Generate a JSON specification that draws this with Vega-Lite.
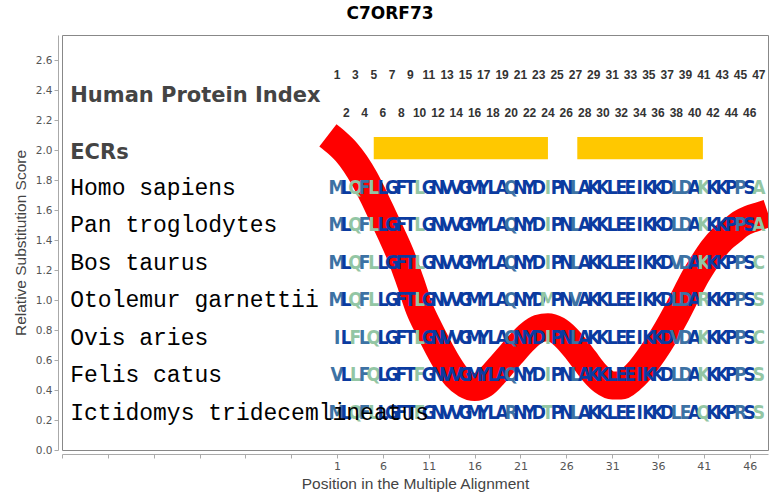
{
  "$schema": "https://vega.github.io/schema/vega-lite/v6.json",
  "width": 706,
  "height": 415,
  "autosize": {"type": "none"},
  "padding": {"left": 62, "top": 35, "right": 12, "bottom": 50},
  "background": "white",
  "title": {"text": "C7ORF73", "font": "DejaVu Sans", "fontSize": 17, "fontWeight": "bold", "color": "#000", "dx": -25, "offset": 12},
  "config": {
    "view": {"stroke": "#888", "strokeWidth": 1},
    "axis": {"grid": false, "domainColor": "#aaa", "tickColor": "#aaa", "tickSize": 4, "labelFont": "DejaVu Sans", "labelFontSize": 11, "labelColor": "#555", "titleFont": "Liberation Sans", "titleFontSize": 15.5, "titleFontWeight": "normal", "titleColor": "#444", "offset": 4},
    "axisY": {"labelOverlap": false}
  },
  "datasets": {
    "curve": [
      {"pos": 0, "score": 2.1}, {"pos": 1, "score": 2.05}, {"pos": 2, "score": 1.99}, {"pos": 3, "score": 1.91}, {"pos": 4, "score": 1.81},
      {"pos": 5, "score": 1.69}, {"pos": 6, "score": 1.56}, {"pos": 7, "score": 1.43}, {"pos": 8, "score": 1.29}, {"pos": 9, "score": 1.12},
      {"pos": 10, "score": 0.94}, {"pos": 11, "score": 0.81}, {"pos": 12, "score": 0.69}, {"pos": 13, "score": 0.58}, {"pos": 14, "score": 0.49},
      {"pos": 15, "score": 0.44}, {"pos": 16, "score": 0.42}, {"pos": 17, "score": 0.44}, {"pos": 18, "score": 0.5}, {"pos": 19, "score": 0.57},
      {"pos": 20, "score": 0.64}, {"pos": 21, "score": 0.71}, {"pos": 22, "score": 0.77}, {"pos": 23, "score": 0.81}, {"pos": 24, "score": 0.82},
      {"pos": 25, "score": 0.8}, {"pos": 26, "score": 0.75}, {"pos": 27, "score": 0.68}, {"pos": 28, "score": 0.6}, {"pos": 29, "score": 0.52},
      {"pos": 30, "score": 0.46}, {"pos": 31, "score": 0.43}, {"pos": 32, "score": 0.43}, {"pos": 33, "score": 0.47}, {"pos": 34, "score": 0.53},
      {"pos": 35, "score": 0.61}, {"pos": 36, "score": 0.7}, {"pos": 37, "score": 0.8}, {"pos": 38, "score": 0.91}, {"pos": 39, "score": 1.03},
      {"pos": 40, "score": 1.15}, {"pos": 41, "score": 1.25}, {"pos": 42, "score": 1.34}, {"pos": 43, "score": 1.41}, {"pos": 44, "score": 1.46},
      {"pos": 45, "score": 1.51}, {"pos": 46, "score": 1.54}, {"pos": 47, "score": 1.56}, {"pos": 48, "score": 1.58}
    ],
    "ecrs": [
      {"start": 5, "end": 24},
      {"start": 27.2, "end": 40.9}
    ],
    "headers": [
      {"label": "Human Protein Index", "y": 2.36},
      {"label": "ECRs", "y": 1.98}
    ],
    "species": [
      {"sp": 1, "name": "Homo sapiens", "level": 1.75},
      {"sp": 2, "name": "Pan troglodytes", "level": 1.5},
      {"sp": 3, "name": "Bos taurus", "level": 1.25},
      {"sp": 4, "name": "Otolemur garnettii", "level": 1.0},
      {"sp": 5, "name": "Ovis aries", "level": 0.75},
      {"sp": 6, "name": "Felis catus", "level": 0.5},
      {"sp": 7, "name": "Ictidomys tridecemlineatus", "level": 0.25}
    ],
    "index": [
      {"pos": 1, "y": 2.5}, {"pos": 2, "y": 2.25}, {"pos": 3, "y": 2.5}, {"pos": 4, "y": 2.25}, {"pos": 5, "y": 2.5}, {"pos": 6, "y": 2.25},
      {"pos": 7, "y": 2.5}, {"pos": 8, "y": 2.25}, {"pos": 9, "y": 2.5}, {"pos": 10, "y": 2.25}, {"pos": 11, "y": 2.5}, {"pos": 12, "y": 2.25},
      {"pos": 13, "y": 2.5}, {"pos": 14, "y": 2.25}, {"pos": 15, "y": 2.5}, {"pos": 16, "y": 2.25}, {"pos": 17, "y": 2.5}, {"pos": 18, "y": 2.25},
      {"pos": 19, "y": 2.5}, {"pos": 20, "y": 2.25}, {"pos": 21, "y": 2.5}, {"pos": 22, "y": 2.25}, {"pos": 23, "y": 2.5}, {"pos": 24, "y": 2.25},
      {"pos": 25, "y": 2.5}, {"pos": 26, "y": 2.25}, {"pos": 27, "y": 2.5}, {"pos": 28, "y": 2.25}, {"pos": 29, "y": 2.5}, {"pos": 30, "y": 2.25},
      {"pos": 31, "y": 2.5}, {"pos": 32, "y": 2.25}, {"pos": 33, "y": 2.5}, {"pos": 34, "y": 2.25}, {"pos": 35, "y": 2.5}, {"pos": 36, "y": 2.25},
      {"pos": 37, "y": 2.5}, {"pos": 38, "y": 2.25}, {"pos": 39, "y": 2.5}, {"pos": 40, "y": 2.25}, {"pos": 41, "y": 2.5}, {"pos": 42, "y": 2.25},
      {"pos": 43, "y": 2.5}, {"pos": 44, "y": 2.25}, {"pos": 45, "y": 2.5}, {"pos": 46, "y": 2.25}, {"pos": 47, "y": 2.5}
    ],
    "columns": [
      {"pos": 1, "cons": "m"}, {"pos": 2, "cons": "d"}, {"pos": 3, "cons": "l"}, {"pos": 4, "cons": "m"}, {"pos": 5, "cons": "l"},
      {"pos": 6, "cons": "d"}, {"pos": 7, "cons": "d"}, {"pos": 8, "cons": "d"}, {"pos": 9, "cons": "d"}, {"pos": 10, "cons": "l"},
      {"pos": 11, "cons": "d"}, {"pos": 12, "cons": "d"}, {"pos": 13, "cons": "d"}, {"pos": 14, "cons": "d"}, {"pos": 15, "cons": "d"},
      {"pos": 16, "cons": "d"}, {"pos": 17, "cons": "d"}, {"pos": 18, "cons": "d"}, {"pos": 19, "cons": "d"}, {"pos": 20, "cons": "m"},
      {"pos": 21, "cons": "d"}, {"pos": 22, "cons": "d"}, {"pos": 23, "cons": "d"}, {"pos": 24, "cons": "l"}, {"pos": 25, "cons": "d"},
      {"pos": 26, "cons": "d"}, {"pos": 27, "cons": "m"}, {"pos": 28, "cons": "d"}, {"pos": 29, "cons": "d"}, {"pos": 30, "cons": "d"},
      {"pos": 31, "cons": "d"}, {"pos": 32, "cons": "d"}, {"pos": 33, "cons": "d"}, {"pos": 34, "cons": "d"}, {"pos": 35, "cons": "d"},
      {"pos": 36, "cons": "d"}, {"pos": 37, "cons": "d"}, {"pos": 38, "cons": "m"}, {"pos": 39, "cons": "m"}, {"pos": 40, "cons": "d"},
      {"pos": 41, "cons": "l"}, {"pos": 42, "cons": "d"}, {"pos": 43, "cons": "d"}, {"pos": 44, "cons": "d"}, {"pos": 45, "cons": "m"},
      {"pos": 46, "cons": "d"}, {"pos": 47, "cons": "l"}
    ],
    "alignment": [
      {"sp":1,"pos":1,"aa":"M"},{"sp":1,"pos":2,"aa":"L"},{"sp":1,"pos":3,"aa":"Q"},{"sp":1,"pos":4,"aa":"F"},{"sp":1,"pos":5,"aa":"L"},{"sp":1,"pos":6,"aa":"L"},{"sp":1,"pos":7,"aa":"G"},{"sp":1,"pos":8,"aa":"F"},{"sp":1,"pos":9,"aa":"T"},{"sp":1,"pos":10,"aa":"L"},
      {"sp":1,"pos":11,"aa":"G"},{"sp":1,"pos":12,"aa":"N"},{"sp":1,"pos":13,"aa":"V"},{"sp":1,"pos":14,"aa":"V"},{"sp":1,"pos":15,"aa":"G"},{"sp":1,"pos":16,"aa":"M"},{"sp":1,"pos":17,"aa":"Y"},{"sp":1,"pos":18,"aa":"L"},{"sp":1,"pos":19,"aa":"A"},{"sp":1,"pos":20,"aa":"Q"},
      {"sp":1,"pos":21,"aa":"N"},{"sp":1,"pos":22,"aa":"Y"},{"sp":1,"pos":23,"aa":"D"},{"sp":1,"pos":24,"aa":"I"},{"sp":1,"pos":25,"aa":"P"},{"sp":1,"pos":26,"aa":"N"},{"sp":1,"pos":27,"aa":"L"},{"sp":1,"pos":28,"aa":"A"},{"sp":1,"pos":29,"aa":"K"},{"sp":1,"pos":30,"aa":"K"},
      {"sp":1,"pos":31,"aa":"L"},{"sp":1,"pos":32,"aa":"E"},{"sp":1,"pos":33,"aa":"E"},{"sp":1,"pos":34,"aa":"I"},{"sp":1,"pos":35,"aa":"K"},{"sp":1,"pos":36,"aa":"K"},{"sp":1,"pos":37,"aa":"D"},{"sp":1,"pos":38,"aa":"L"},{"sp":1,"pos":39,"aa":"D"},{"sp":1,"pos":40,"aa":"A"},
      {"sp":1,"pos":41,"aa":"K"},{"sp":1,"pos":42,"aa":"K"},{"sp":1,"pos":43,"aa":"K"},{"sp":1,"pos":44,"aa":"P"},{"sp":1,"pos":45,"aa":"P"},{"sp":1,"pos":46,"aa":"S"},{"sp":1,"pos":47,"aa":"A"},

      {"sp":2,"pos":1,"aa":"M"},{"sp":2,"pos":2,"aa":"L"},{"sp":2,"pos":3,"aa":"Q"},{"sp":2,"pos":4,"aa":"F"},{"sp":2,"pos":5,"aa":"L"},{"sp":2,"pos":6,"aa":"L"},{"sp":2,"pos":7,"aa":"G"},{"sp":2,"pos":8,"aa":"F"},{"sp":2,"pos":9,"aa":"T"},{"sp":2,"pos":10,"aa":"L"},
      {"sp":2,"pos":11,"aa":"G"},{"sp":2,"pos":12,"aa":"N"},{"sp":2,"pos":13,"aa":"V"},{"sp":2,"pos":14,"aa":"V"},{"sp":2,"pos":15,"aa":"G"},{"sp":2,"pos":16,"aa":"M"},{"sp":2,"pos":17,"aa":"Y"},{"sp":2,"pos":18,"aa":"L"},{"sp":2,"pos":19,"aa":"A"},{"sp":2,"pos":20,"aa":"Q"},
      {"sp":2,"pos":21,"aa":"N"},{"sp":2,"pos":22,"aa":"Y"},{"sp":2,"pos":23,"aa":"D"},{"sp":2,"pos":24,"aa":"I"},{"sp":2,"pos":25,"aa":"P"},{"sp":2,"pos":26,"aa":"N"},{"sp":2,"pos":27,"aa":"L"},{"sp":2,"pos":28,"aa":"A"},{"sp":2,"pos":29,"aa":"K"},{"sp":2,"pos":30,"aa":"K"},
      {"sp":2,"pos":31,"aa":"L"},{"sp":2,"pos":32,"aa":"E"},{"sp":2,"pos":33,"aa":"E"},{"sp":2,"pos":34,"aa":"I"},{"sp":2,"pos":35,"aa":"K"},{"sp":2,"pos":36,"aa":"K"},{"sp":2,"pos":37,"aa":"D"},{"sp":2,"pos":38,"aa":"L"},{"sp":2,"pos":39,"aa":"D"},{"sp":2,"pos":40,"aa":"A"},
      {"sp":2,"pos":41,"aa":"K"},{"sp":2,"pos":42,"aa":"K"},{"sp":2,"pos":43,"aa":"K"},{"sp":2,"pos":44,"aa":"P"},{"sp":2,"pos":45,"aa":"P"},{"sp":2,"pos":46,"aa":"S"},{"sp":2,"pos":47,"aa":"A"},

      {"sp":3,"pos":1,"aa":"M"},{"sp":3,"pos":2,"aa":"L"},{"sp":3,"pos":3,"aa":"Q"},{"sp":3,"pos":4,"aa":"F"},{"sp":3,"pos":5,"aa":"L"},{"sp":3,"pos":6,"aa":"L"},{"sp":3,"pos":7,"aa":"G"},{"sp":3,"pos":8,"aa":"F"},{"sp":3,"pos":9,"aa":"T"},{"sp":3,"pos":10,"aa":"L"},
      {"sp":3,"pos":11,"aa":"G"},{"sp":3,"pos":12,"aa":"N"},{"sp":3,"pos":13,"aa":"V"},{"sp":3,"pos":14,"aa":"V"},{"sp":3,"pos":15,"aa":"G"},{"sp":3,"pos":16,"aa":"M"},{"sp":3,"pos":17,"aa":"Y"},{"sp":3,"pos":18,"aa":"L"},{"sp":3,"pos":19,"aa":"A"},{"sp":3,"pos":20,"aa":"Q"},
      {"sp":3,"pos":21,"aa":"N"},{"sp":3,"pos":22,"aa":"Y"},{"sp":3,"pos":23,"aa":"D"},{"sp":3,"pos":24,"aa":"I"},{"sp":3,"pos":25,"aa":"P"},{"sp":3,"pos":26,"aa":"N"},{"sp":3,"pos":27,"aa":"L"},{"sp":3,"pos":28,"aa":"A"},{"sp":3,"pos":29,"aa":"K"},{"sp":3,"pos":30,"aa":"K"},
      {"sp":3,"pos":31,"aa":"L"},{"sp":3,"pos":32,"aa":"E"},{"sp":3,"pos":33,"aa":"E"},{"sp":3,"pos":34,"aa":"I"},{"sp":3,"pos":35,"aa":"K"},{"sp":3,"pos":36,"aa":"K"},{"sp":3,"pos":37,"aa":"D"},{"sp":3,"pos":38,"aa":"V"},{"sp":3,"pos":39,"aa":"D"},{"sp":3,"pos":40,"aa":"A"},
      {"sp":3,"pos":41,"aa":"K"},{"sp":3,"pos":42,"aa":"K"},{"sp":3,"pos":43,"aa":"K"},{"sp":3,"pos":44,"aa":"P"},{"sp":3,"pos":45,"aa":"P"},{"sp":3,"pos":46,"aa":"S"},{"sp":3,"pos":47,"aa":"C"},

      {"sp":4,"pos":1,"aa":"M"},{"sp":4,"pos":2,"aa":"L"},{"sp":4,"pos":3,"aa":"Q"},{"sp":4,"pos":4,"aa":"F"},{"sp":4,"pos":5,"aa":"L"},{"sp":4,"pos":6,"aa":"L"},{"sp":4,"pos":7,"aa":"G"},{"sp":4,"pos":8,"aa":"F"},{"sp":4,"pos":9,"aa":"T"},{"sp":4,"pos":10,"aa":"L"},
      {"sp":4,"pos":11,"aa":"G"},{"sp":4,"pos":12,"aa":"N"},{"sp":4,"pos":13,"aa":"V"},{"sp":4,"pos":14,"aa":"V"},{"sp":4,"pos":15,"aa":"G"},{"sp":4,"pos":16,"aa":"M"},{"sp":4,"pos":17,"aa":"Y"},{"sp":4,"pos":18,"aa":"L"},{"sp":4,"pos":19,"aa":"A"},{"sp":4,"pos":20,"aa":"Q"},
      {"sp":4,"pos":21,"aa":"N"},{"sp":4,"pos":22,"aa":"Y"},{"sp":4,"pos":23,"aa":"D"},{"sp":4,"pos":24,"aa":"M"},{"sp":4,"pos":25,"aa":"P"},{"sp":4,"pos":26,"aa":"N"},{"sp":4,"pos":27,"aa":"V"},{"sp":4,"pos":28,"aa":"A"},{"sp":4,"pos":29,"aa":"K"},{"sp":4,"pos":30,"aa":"K"},
      {"sp":4,"pos":31,"aa":"L"},{"sp":4,"pos":32,"aa":"E"},{"sp":4,"pos":33,"aa":"E"},{"sp":4,"pos":34,"aa":"I"},{"sp":4,"pos":35,"aa":"K"},{"sp":4,"pos":36,"aa":"K"},{"sp":4,"pos":37,"aa":"D"},{"sp":4,"pos":38,"aa":"L"},{"sp":4,"pos":39,"aa":"D"},{"sp":4,"pos":40,"aa":"A"},
      {"sp":4,"pos":41,"aa":"R"},{"sp":4,"pos":42,"aa":"K"},{"sp":4,"pos":43,"aa":"K"},{"sp":4,"pos":44,"aa":"P"},{"sp":4,"pos":45,"aa":"P"},{"sp":4,"pos":46,"aa":"S"},{"sp":4,"pos":47,"aa":"S"},

      {"sp":5,"pos":1,"aa":"I"},{"sp":5,"pos":2,"aa":"L"},{"sp":5,"pos":3,"aa":"F"},{"sp":5,"pos":4,"aa":"L"},{"sp":5,"pos":5,"aa":"Q"},{"sp":5,"pos":6,"aa":"L"},{"sp":5,"pos":7,"aa":"G"},{"sp":5,"pos":8,"aa":"F"},{"sp":5,"pos":9,"aa":"T"},{"sp":5,"pos":10,"aa":"L"},
      {"sp":5,"pos":11,"aa":"G"},{"sp":5,"pos":12,"aa":"N"},{"sp":5,"pos":13,"aa":"V"},{"sp":5,"pos":14,"aa":"V"},{"sp":5,"pos":15,"aa":"G"},{"sp":5,"pos":16,"aa":"M"},{"sp":5,"pos":17,"aa":"Y"},{"sp":5,"pos":18,"aa":"L"},{"sp":5,"pos":19,"aa":"A"},{"sp":5,"pos":20,"aa":"Q"},
      {"sp":5,"pos":21,"aa":"N"},{"sp":5,"pos":22,"aa":"Y"},{"sp":5,"pos":23,"aa":"D"},{"sp":5,"pos":24,"aa":"I"},{"sp":5,"pos":25,"aa":"P"},{"sp":5,"pos":26,"aa":"N"},{"sp":5,"pos":27,"aa":"L"},{"sp":5,"pos":28,"aa":"A"},{"sp":5,"pos":29,"aa":"K"},{"sp":5,"pos":30,"aa":"K"},
      {"sp":5,"pos":31,"aa":"L"},{"sp":5,"pos":32,"aa":"E"},{"sp":5,"pos":33,"aa":"E"},{"sp":5,"pos":34,"aa":"I"},{"sp":5,"pos":35,"aa":"K"},{"sp":5,"pos":36,"aa":"K"},{"sp":5,"pos":37,"aa":"D"},{"sp":5,"pos":38,"aa":"V"},{"sp":5,"pos":39,"aa":"D"},{"sp":5,"pos":40,"aa":"A"},
      {"sp":5,"pos":41,"aa":"K"},{"sp":5,"pos":42,"aa":"K"},{"sp":5,"pos":43,"aa":"K"},{"sp":5,"pos":44,"aa":"P"},{"sp":5,"pos":45,"aa":"P"},{"sp":5,"pos":46,"aa":"S"},{"sp":5,"pos":47,"aa":"C"},

      {"sp":6,"pos":1,"aa":"V"},{"sp":6,"pos":2,"aa":"L"},{"sp":6,"pos":3,"aa":"L"},{"sp":6,"pos":4,"aa":"F"},{"sp":6,"pos":5,"aa":"Q"},{"sp":6,"pos":6,"aa":"L"},{"sp":6,"pos":7,"aa":"G"},{"sp":6,"pos":8,"aa":"F"},{"sp":6,"pos":9,"aa":"T"},{"sp":6,"pos":10,"aa":"F"},
      {"sp":6,"pos":11,"aa":"G"},{"sp":6,"pos":12,"aa":"N"},{"sp":6,"pos":13,"aa":"V"},{"sp":6,"pos":14,"aa":"V"},{"sp":6,"pos":15,"aa":"G"},{"sp":6,"pos":16,"aa":"M"},{"sp":6,"pos":17,"aa":"Y"},{"sp":6,"pos":18,"aa":"L"},{"sp":6,"pos":19,"aa":"A"},{"sp":6,"pos":20,"aa":"Q"},
      {"sp":6,"pos":21,"aa":"N"},{"sp":6,"pos":22,"aa":"Y"},{"sp":6,"pos":23,"aa":"D"},{"sp":6,"pos":24,"aa":"I"},{"sp":6,"pos":25,"aa":"P"},{"sp":6,"pos":26,"aa":"N"},{"sp":6,"pos":27,"aa":"L"},{"sp":6,"pos":28,"aa":"A"},{"sp":6,"pos":29,"aa":"K"},{"sp":6,"pos":30,"aa":"K"},
      {"sp":6,"pos":31,"aa":"L"},{"sp":6,"pos":32,"aa":"E"},{"sp":6,"pos":33,"aa":"E"},{"sp":6,"pos":34,"aa":"I"},{"sp":6,"pos":35,"aa":"K"},{"sp":6,"pos":36,"aa":"K"},{"sp":6,"pos":37,"aa":"D"},{"sp":6,"pos":38,"aa":"L"},{"sp":6,"pos":39,"aa":"D"},{"sp":6,"pos":40,"aa":"A"},
      {"sp":6,"pos":41,"aa":"K"},{"sp":6,"pos":42,"aa":"K"},{"sp":6,"pos":43,"aa":"K"},{"sp":6,"pos":44,"aa":"P"},{"sp":6,"pos":45,"aa":"P"},{"sp":6,"pos":46,"aa":"S"},{"sp":6,"pos":47,"aa":"S"},

      {"sp":7,"pos":1,"aa":"M"},{"sp":7,"pos":2,"aa":"L"},{"sp":7,"pos":3,"aa":"Q"},{"sp":7,"pos":4,"aa":"F"},{"sp":7,"pos":5,"aa":"L"},{"sp":7,"pos":6,"aa":"L"},{"sp":7,"pos":7,"aa":"G"},{"sp":7,"pos":8,"aa":"F"},{"sp":7,"pos":9,"aa":"T"},{"sp":7,"pos":10,"aa":"F"},
      {"sp":7,"pos":11,"aa":"G"},{"sp":7,"pos":12,"aa":"N"},{"sp":7,"pos":13,"aa":"V"},{"sp":7,"pos":14,"aa":"V"},{"sp":7,"pos":15,"aa":"G"},{"sp":7,"pos":16,"aa":"M"},{"sp":7,"pos":17,"aa":"Y"},{"sp":7,"pos":18,"aa":"L"},{"sp":7,"pos":19,"aa":"A"},{"sp":7,"pos":20,"aa":"R"},
      {"sp":7,"pos":21,"aa":"N"},{"sp":7,"pos":22,"aa":"Y"},{"sp":7,"pos":23,"aa":"D"},{"sp":7,"pos":24,"aa":"T"},{"sp":7,"pos":25,"aa":"P"},{"sp":7,"pos":26,"aa":"N"},{"sp":7,"pos":27,"aa":"L"},{"sp":7,"pos":28,"aa":"A"},{"sp":7,"pos":29,"aa":"K"},{"sp":7,"pos":30,"aa":"K"},
      {"sp":7,"pos":31,"aa":"L"},{"sp":7,"pos":32,"aa":"E"},{"sp":7,"pos":33,"aa":"E"},{"sp":7,"pos":34,"aa":"I"},{"sp":7,"pos":35,"aa":"K"},{"sp":7,"pos":36,"aa":"K"},{"sp":7,"pos":37,"aa":"D"},{"sp":7,"pos":38,"aa":"L"},{"sp":7,"pos":39,"aa":"E"},{"sp":7,"pos":40,"aa":"A"},
      {"sp":7,"pos":41,"aa":"Q"},{"sp":7,"pos":42,"aa":"K"},{"sp":7,"pos":43,"aa":"K"},{"sp":7,"pos":44,"aa":"P"},{"sp":7,"pos":45,"aa":"R"},{"sp":7,"pos":46,"aa":"S"},{"sp":7,"pos":47,"aa":"S"}
    ]
  },
  "layer": [
    {
      "data": {"name": "curve"},
      "mark": {"type": "line", "color": "#ff0000", "strokeWidth": 28, "interpolate": "monotone", "strokeCap": "butt", "clip": true},
      "encoding": {
        "x": {"field": "pos", "type": "quantitative", "scale": {"domain": [-29, 48], "nice": false, "zero": false},
          "axis": {"title": "Position in the Multiple Alignment", "values": [-29, -24, -19, -14, -9, -4, 1, 6, 11, 16, 21, 26, 31, 36, 41, 46], "labelExpr": "datum.value >= 1 ? datum.label : ''", "titlePadding": 5, "labelOverlap": false}},
        "y": {"field": "score", "type": "quantitative", "scale": {"domain": [0, 2.77], "nice": false, "zero": false},
          "axis": {"title": "Relative Substitution Score", "tickCount": 14, "format": ".1f", "titlePadding": 7, "labelOverlap": false, "labelFontSize": 10.5, "labelSeparation": 0}}
      }
    },
    {
      "data": {"name": "ecrs"},
      "mark": {"type": "rect", "color": "#ffc800"},
      "encoding": {
        "x": {"field": "start", "type": "quantitative"},
        "x2": {"field": "end"},
        "y": {"datum": 1.94, "type": "quantitative"},
        "y2": {"datum": 2.09}
      }
    },
    {
      "data": {"name": "alignment"},
      "transform": [
        {"lookup": "sp", "from": {"data": {"name": "species"}, "key": "sp", "fields": ["level"]}},
        {"lookup": "pos", "from": {"data": {"name": "columns"}, "key": "pos", "fields": ["cons"]}}
      ],
      "mark": {"type": "text", "font": "DejaVu Sans Condensed", "fontWeight": "bold", "fontSize": 19, "align": "center", "baseline": "middle"},
      "encoding": {
        "x": {"field": "pos", "type": "quantitative"},
        "y": {"field": "level", "type": "quantitative"},
        "text": {"field": "aa"},
        "color": {"field": "cons", "type": "nominal", "legend": null,
          "scale": {"domain": ["d", "m", "l"], "range": ["#0b3ba0", "#3d72a4", "#93c6a4"]}}
      }
    },
    {
      "data": {"name": "index"},
      "mark": {"type": "text", "font": "Liberation Sans", "fontWeight": "bold", "fontSize": 12, "color": "#333", "align": "center", "baseline": "middle"},
      "encoding": {
        "x": {"field": "pos", "type": "quantitative"},
        "y": {"field": "y", "type": "quantitative"},
        "text": {"field": "pos"}
      }
    },
    {
      "data": {"name": "headers"},
      "mark": {"type": "text", "font": "DejaVu Sans", "fontWeight": "bold", "fontSize": 21, "color": "#444", "align": "left", "baseline": "middle"},
      "encoding": {
        "x": {"datum": -28.1, "type": "quantitative"},
        "y": {"field": "y", "type": "quantitative"},
        "text": {"field": "label"}
      }
    },
    {
      "data": {"name": "species"},
      "mark": {"type": "text", "font": "Liberation Mono", "fontSize": 23, "color": "#000", "align": "left", "baseline": "middle"},
      "encoding": {
        "x": {"datum": -28.1, "type": "quantitative"},
        "y": {"field": "level", "type": "quantitative"},
        "text": {"field": "name"}
      }
    }
  ]
}
